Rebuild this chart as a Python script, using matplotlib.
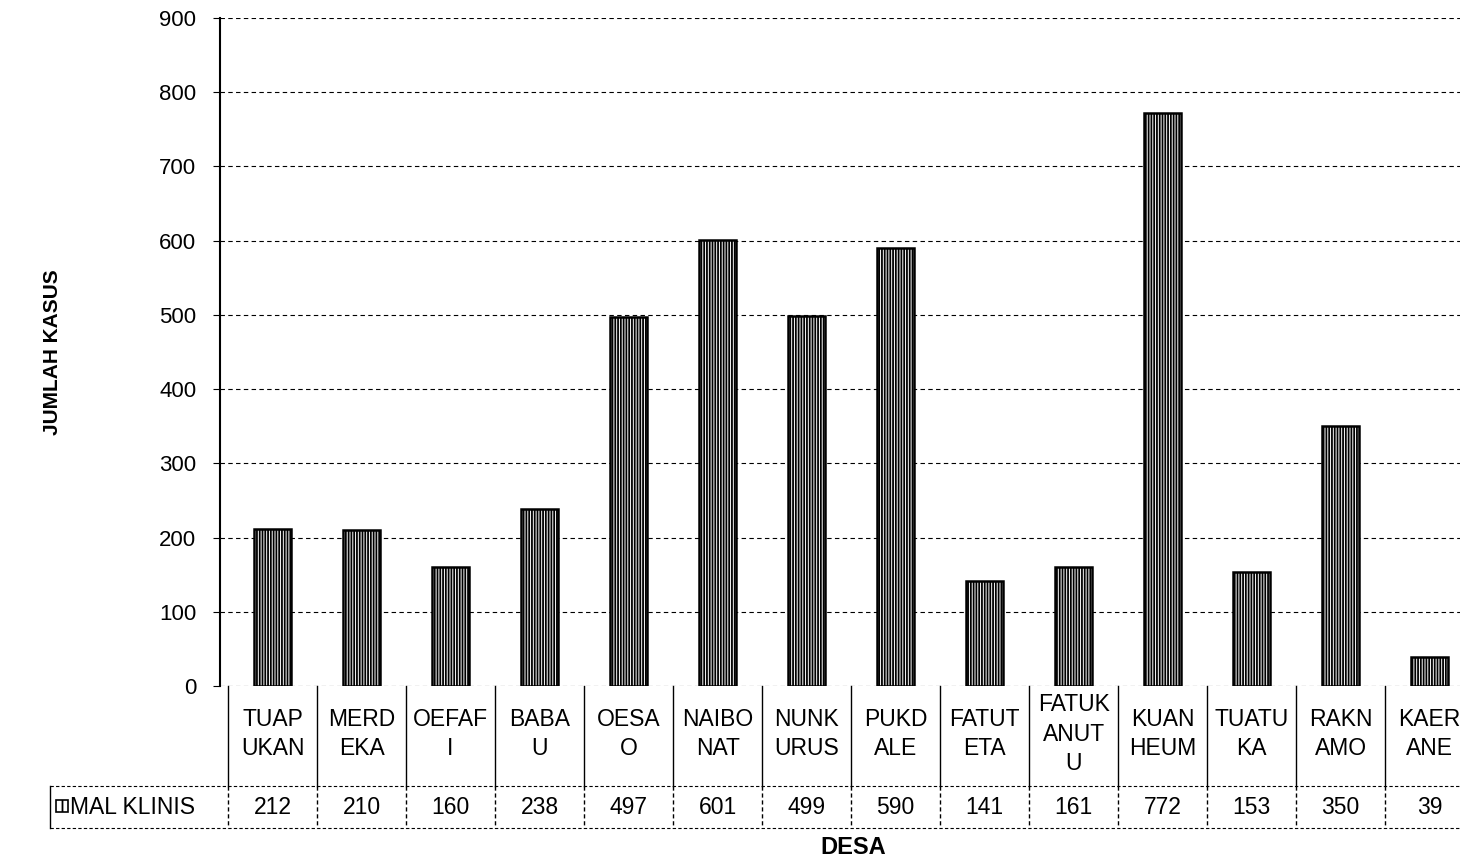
import matplotlib.pyplot as plt
import matplotlib.transforms as mtransforms
from matplotlib.patches import Rectangle

# Data
desa = ["TUAP\nUKAN", "MERD\nEKA", "OEFAF\nI", "BABA\nU", "OESA\nO", "NAIBO\nNAT",
        "NUNK\nURUS", "PUKD\nALE", "FATUT\nETA", "FATUK\nANUT\nU", "KUAN\nHEUM",
        "TUATU\nKA", "RAKN\nAMO", "KAER\nANE"]
mal_klinis = [212, 210, 160, 238, 497, 601, 499, 590, 141, 161, 772, 153, 350, 39]
yticks = [0, 100, 200, 300, 400, 500, 600, 700, 800, 900]

plt.rcParams['font.family'] = ['Liberation Sans', 'DejaVu Sans']
plt.rcParams['hatch.linewidth'] = 1.3

fig = plt.figure(figsize=(14.6, 8.61), dpi=100)
ax = fig.add_axes([220 / 1460, 175 / 861, 1240 / 1460, 668 / 861])

x = list(range(len(desa)))
ax.bar(x, mal_klinis, width=0.42, color='white', edgecolor='black',
       hatch='||||||', linewidth=1.8, zorder=3)

ax.set_ylim(0, 900)
ax.set_xlim(-0.59, 13.34)
ax.set_yticks(yticks)
ax.tick_params(axis='y', labelsize=16, length=5, pad=12, direction='out')
ax.set_xticks([])
ax.grid(axis='y', linestyle=(0, (4, 3)), color='black', linewidth=0.8, zorder=0)
for s in ['top', 'right', 'bottom']:
    ax.spines[s].set_visible(False)
ax.spines['left'].set_linewidth(1.5)

ax.set_ylabel("JUMLAH KASUS", fontsize=15, fontweight='bold', labelpad=70)

# data table below the axis
tr = mtransforms.blended_transform_factory(ax.transData, ax.transAxes)
y_top, y_mid, y_bot = 0.0, -0.1497, -0.2126
for i in range(len(desa) + 1):
    xb = i - 0.5
    ax.plot([xb, xb], [y_top, y_mid], transform=tr, color='black', lw=1.0, clip_on=False)
    ax.plot([xb, xb], [y_mid, y_bot], transform=tr, color='black', lw=1.0,
            linestyle=(0, (3, 2)), clip_on=False)
for i, (name, v) in enumerate(zip(desa, mal_klinis)):
    ax.text(i, -0.072, name, transform=tr, ha='center', va='center', fontsize=16.5,
            linespacing=1.35, clip_on=False)
    ax.text(i, (y_mid + y_bot) / 2, str(v), transform=tr, ha='center', va='center',
            fontsize=16.5, clip_on=False)

# row lines and legend cell (axes fraction coordinates)
x_left = (50 - 220) / 1240
for yy in [y_mid, y_bot]:
    ax.plot([x_left, 1.0], [yy, yy], transform=ax.transAxes, color='black', lw=0.8,
            linestyle=(0, (3, 2)), clip_on=False)
ax.plot([x_left, x_left], [y_mid, y_bot], transform=ax.transAxes, color='black',
        lw=1.0, clip_on=False)
ax.add_patch(Rectangle(((56 - 220) / 1240, -0.188), 12 / 1240, 12 / 668,
                       transform=ax.transAxes, facecolor='white', edgecolor='black',
                       hatch='||', lw=1.2, clip_on=False))
ax.text((70 - 220) / 1240, (y_mid + y_bot) / 2, "MAL KLINIS", transform=ax.transAxes,
        ha='left', va='center', fontsize=16.5, clip_on=False)

fig.text(853 / 1460, 1 - 848 / 861, "DESA", ha='center', va='center',
         fontsize=17, fontweight='bold')

fig.savefig("out.png", dpi=100)
